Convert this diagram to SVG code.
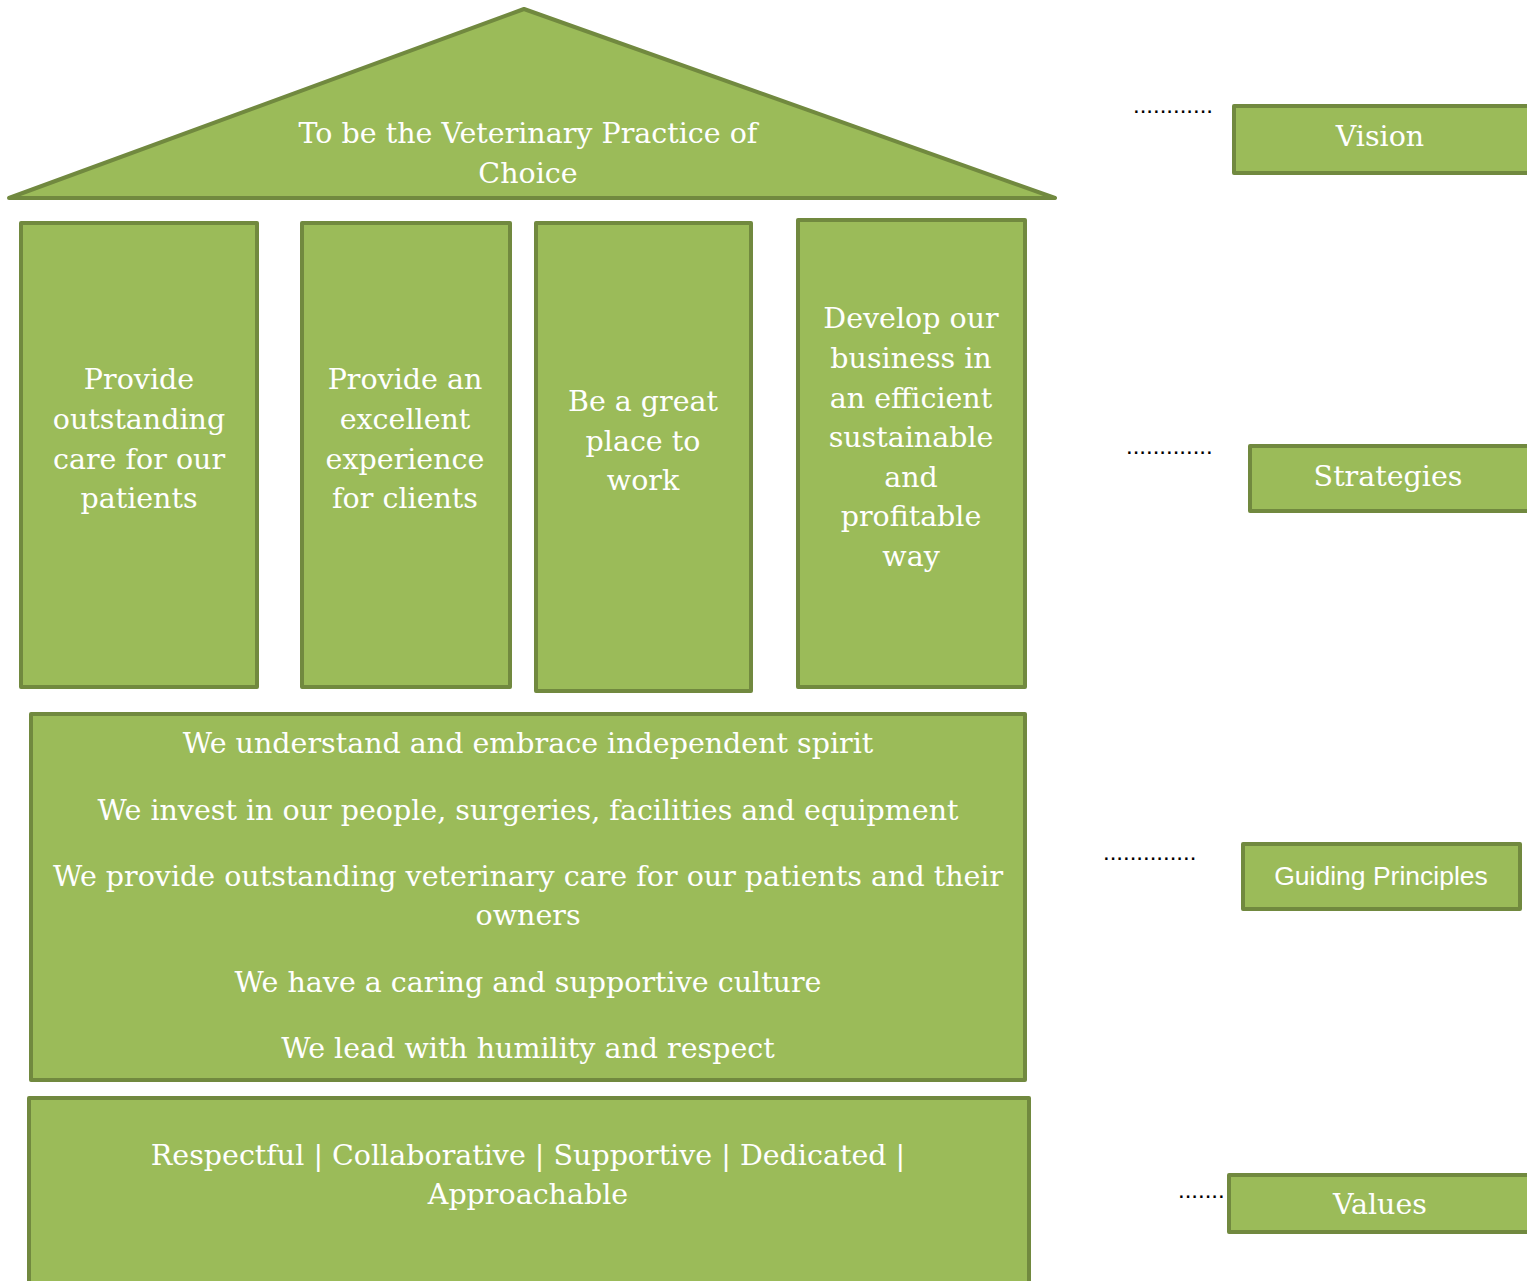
<svg xmlns="http://www.w3.org/2000/svg" width="1527" height="1281" viewBox="0 0 1527 1281">
<style>
.s{fill:#9BBB59;stroke:#71893F;stroke-width:4;stroke-linejoin:round}
.t{font-family:"DejaVu Serif","Liberation Serif",serif;font-size:28.5px;fill:#FFFFFF;text-anchor:middle}
.g{font-family:"Liberation Sans","Open Sans",sans-serif;font-size:26.5px;fill:#FFFFFF;text-anchor:middle}
.d{font-family:"Liberation Sans",sans-serif;font-size:24px;fill:#000000}
</style>
<rect width="1527" height="1281" fill="#FFFFFF"/>
<g id="vision-roof">
<polygon class="s" points="524,9 1055,198 9,198"/>
<text class="t" x="528" y="143">To be the Veterinary Practice of</text>
<text class="t" x="528" y="183">Choice</text>
</g>
<g id="pillar1">
<rect class="s" x="21" y="223" width="236" height="464"/>
<text class="t" x="139" y="389">Provide</text>
<text class="t" x="139" y="429">outstanding</text>
<text class="t" x="139" y="469">care for our</text>
<text class="t" x="139" y="508">patients</text>
</g>
<g id="pillar2">
<rect class="s" x="302" y="223" width="208" height="464"/>
<text class="t" x="405" y="389">Provide an</text>
<text class="t" x="405" y="429">excellent</text>
<text class="t" x="405" y="469">experience</text>
<text class="t" x="405" y="508">for clients</text>
</g>
<g id="pillar3">
<rect class="s" x="536" y="223" width="215" height="468"/>
<text class="t" x="643" y="411">Be a great</text>
<text class="t" x="643" y="451">place to</text>
<text class="t" x="643" y="490">work</text>
</g>
<g id="pillar4">
<rect class="s" x="798" y="220" width="227" height="467"/>
<text class="t" x="911" y="328">Develop our</text>
<text class="t" x="911" y="368">business in</text>
<text class="t" x="911" y="408">an efficient</text>
<text class="t" x="911" y="447">sustainable</text>
<text class="t" x="911" y="487">and</text>
<text class="t" x="911" y="526">profitable</text>
<text class="t" x="911" y="566">way</text>
</g>
<g id="principles">
<rect class="s" x="31" y="714" width="994" height="366"/>
<text class="t" x="528" y="753">We understand and embrace independent spirit</text>
<text class="t" x="528" y="820">We invest in our people, surgeries, facilities and equipment</text>
<text class="t" x="528" y="886">We provide outstanding veterinary care for our patients and their</text>
<text class="t" x="528" y="925">owners</text>
<text class="t" x="528" y="992">We have a caring and supportive culture</text>
<text class="t" x="528" y="1058">We lead with humility and respect</text>
</g>
<g id="values">
<rect class="s" x="29" y="1098" width="1000" height="190"/>
<text class="t" x="528" y="1165">Respectful | Collaborative | Supportive | Dedicated |</text>
<text class="t" x="528" y="1204">Approachable</text>
</g>
<g id="label-vision">
<rect class="s" x="1234" y="106" width="297" height="67"/>
<text class="t" x="1380" y="146">Vision</text>
</g>
<g id="label-strategies">
<rect class="s" x="1250" y="446" width="281" height="65"/>
<text class="t" x="1388" y="486">Strategies</text>
</g>
<g id="label-principles">
<rect class="s" x="1243" y="844" width="277" height="65"/>
<text class="g" x="1381" y="885">Guiding Principles</text>
</g>
<g id="label-values">
<rect class="s" x="1229" y="1175" width="302" height="57"/>
<text class="t" x="1380" y="1214">Values</text>
</g>
<g id="connectors">
<text class="d" x="1133" y="113">............</text>
<text class="d" x="1126" y="454">.............</text>
<text class="d" x="1103" y="860">..............</text>
<text class="d" x="1178" y="1198">.......</text>
</g>
</svg>
